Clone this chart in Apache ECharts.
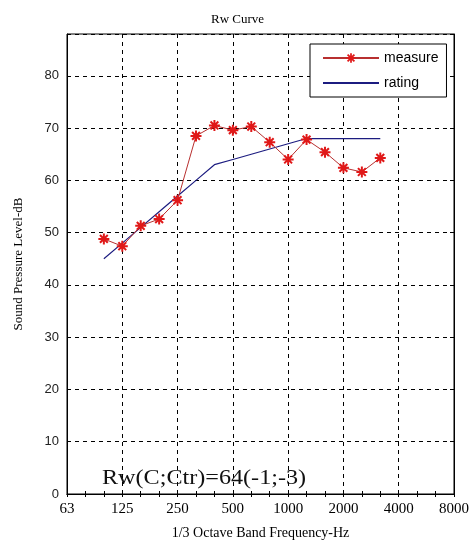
<!DOCTYPE html>
<html>
<head>
<meta charset="utf-8">
<script src="https://cdn.jsdelivr.net/npm/echarts@6/dist/echarts.min.js"></script>
<style>
  html, body { margin: 0; padding: 0; background: #fff; }
  #chart { width: 475px; height: 545px; }
</style>
</head>
<body>
<div id="chart"></div>
<script>
// 1/3 octave bands shown on the axis
const bands = ['63', '80', '100', '125', '160', '200', '250', '315', '400', '500', '630',
  '800', '1000', '1250', '1600', '2000', '2500', '3150', '4000', '5000', '6300', '8000'];
const labelledBands = ['63', '125', '250', '500', '1000', '2000', '4000', '8000'];

// measured bands 100..3150 Hz
const measureBands = ['100', '125', '160', '200', '250', '315', '400', '500', '630',
  '800', '1000', '1250', '1600', '2000', '2500', '3150'];
const measure = [48.8, 47.4, 51.3, 52.6, 56.2, 68.5, 70.5, 69.6, 70.3, 67.3, 64.0, 67.8, 65.4, 62.4, 61.6, 64.3];
const rating = [45, 48, 51, 54, 57, 60, 63, 64, 65, 66, 67, 68, 68, 68, 68, 68];

const yTicks = [0, 10, 20, 30, 40, 50, 60, 70, 80];
const rwText = 'Rw(C;Ctr)=64(-1;-3)';

// asterisk marker like matlab's '*'
const star = 'path://M-0.9,-5L0.9,-5L0.9,5L-0.9,5Z M-5,-0.9L5,-0.9L5,0.9L-5,0.9Z ' +
  'M-4.2,-2.9L-2.9,-4.2L4.2,2.9L2.9,4.2Z M2.9,-4.2L4.2,-2.9L-2.9,4.2L-4.2,2.9Z';
const lineIcon = 'path://M0,0L56,0L56,2.2L0,2.2Z';

const isLabelled = (i) => labelledBands.indexOf(bands[i]) >= 0;

const chart = echarts.init(document.getElementById('chart'));
chart.setOption({
  backgroundColor: '#fff',
  animation: false,
  title: {
    text: 'Rw Curve',
    left: 'center',
    top: 8,
    textStyle: { fontFamily: 'Liberation Serif', fontSize: 13, fontWeight: 'normal', color: '#000' }
  },
  legend: {
    orient: 'vertical',
    left: 310,
    top: 44,
    width: 135,
    padding: [7, 8, 7, 12],
    itemWidth: 56,
    itemHeight: 12,
    itemGap: 11,
    backgroundColor: '#fff',
    borderColor: '#000',
    borderWidth: 1,
    textStyle: { fontFamily: 'Liberation Sans', fontSize: 14, color: '#000' },
    data: [
      { name: 'measure' },
      { name: 'rating', icon: lineIcon, itemStyle: { color: '#1c1c80' } }
    ]
  },
  grid: { left: 67, right: 21, top: 34, bottom: 51, show: true, borderColor: '#000', borderWidth: 1 },
  xAxis: [{
    type: 'category',
    data: bands,
    boundaryGap: false,
    name: '1/3 Octave Band Frequency-Hz',
    nameLocation: 'middle',
    nameGap: 32,
    nameTextStyle: { fontFamily: 'Liberation Serif', fontSize: 14, color: '#000' },
    axisLine: { lineStyle: { color: '#000', width: 1 } },
    axisTick: { inside: true, length: 3, interval: 0, lineStyle: { color: '#000' } },
    axisLabel: {
      interval: (i) => isLabelled(i),
      margin: 8,
      fontFamily: 'Liberation Serif', fontSize: 15, color: '#000'
    },
    splitLine: {
      show: true,
      interval: (i) => isLabelled(i),
      lineStyle: { color: '#000', type: [4, 4], width: 1 }
    }
  }, {
    type: 'category',
    data: bands,
    boundaryGap: false,
    position: 'top',
    axisLine: { lineStyle: { color: '#000' } },
    axisTick: { inside: true, length: 3, interval: 0, lineStyle: { color: '#000' } },
    axisLabel: { show: false },
    splitLine: { show: false }
  }],
  yAxis: [{
    type: 'value',
    min: 0,
    max: 88,
    interval: 10,
    name: 'Sound Pressure Level-dB',
    nameLocation: 'middle',
    nameGap: 42,
    nameTextStyle: { fontFamily: 'Liberation Serif', fontSize: 13, color: '#000' },
    axisLine: { show: true, lineStyle: { color: '#000' } },
    axisTick: { show: true, inside: true, length: 4, lineStyle: { color: '#000' } },
    axisLabel: {
      showMaxLabel: false,
      margin: 8,
      fontFamily: 'Liberation Sans', fontSize: 13, color: '#222',
      formatter: (v) => (yTicks.indexOf(v) >= 0 ? String(v) : '')
    },
    splitLine: { lineStyle: { color: '#000', type: [4, 4], width: 1 } }
  }, {
    type: 'value',
    min: 0,
    max: 88,
    interval: 10,
    position: 'right',
    axisLine: { show: true, lineStyle: { color: '#000' } },
    axisTick: { show: true, inside: true, length: 4, lineStyle: { color: '#000' } },
    axisLabel: { show: false },
    splitLine: { show: false }
  }],
  graphic: [{
    type: 'text',
    left: 102,
    top: 468,
    scaleX: 1.15,
    style: {
      text: rwText,
      font: '21px "Liberation Serif"',
      fill: '#111'
    }
  }],
  series: [{
    name: 'measure',
    type: 'line',
    data: measureBands.map((b, i) => [b, measure[i]]),
    symbol: star,
    symbolSize: 11,
    itemStyle: { color: '#e01818' },
    lineStyle: { color: '#b83030', width: 1 },
    z: 3
  }, {
    name: 'rating',
    type: 'line',
    data: measureBands.map((b, i) => [b, rating[i]]),
    symbol: 'none',
    itemStyle: { color: '#1c1c80' },
    lineStyle: { color: '#1c1c80', width: 1.2 },
    z: 2
  }]
});
</script>
</body>
</html>
